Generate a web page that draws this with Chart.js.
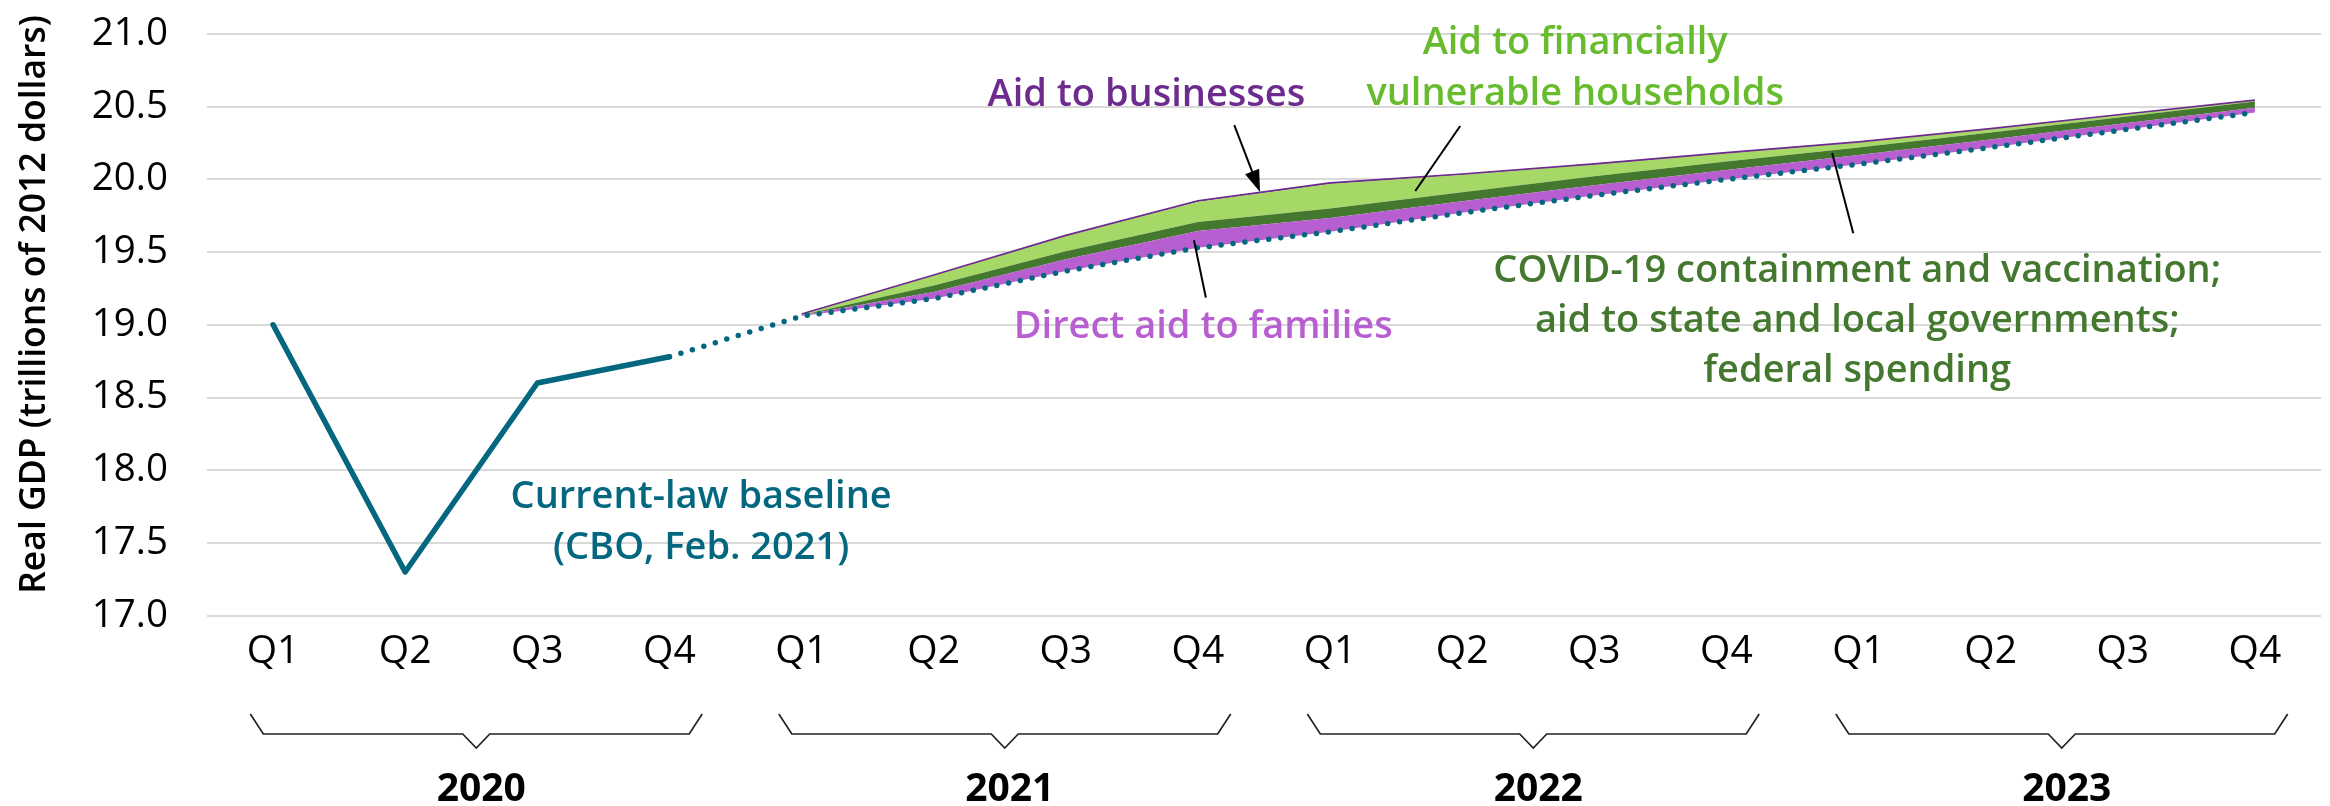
<!DOCTYPE html>
<html>
<head>
<meta charset="utf-8">
<script src="https://cdn.jsdelivr.net/npm/chart.js@4.4.1/dist/chart.umd.min.js"></script>
<style>
html,body{margin:0;padding:0;background:#ffffff;}
#wrap{width:2330px;height:806px;position:relative;}
</style>
</head>
<body>
<div id="wrap"><canvas id="c" width="2330" height="806"></canvas></div>
<script>
// ---------------- data ----------------
const quarterLabels = ['Q1','Q2','Q3','Q4','Q1','Q2','Q3','Q4','Q1','Q2','Q3','Q4','Q1','Q2','Q3','Q4'];
const yearLabels = ['2020','2021','2022','2023'];
const yTicks = [17.0, 17.5, 18.0, 18.5, 19.0, 19.5, 20.0, 20.5, 21.0];
const yTitle = 'Real GDP (trillions of 2012 dollars)';

// Actual GDP 2020 (solid line)
const actualGdp = [19.0, 17.3, 18.6, 18.78, null, null, null, null, null, null, null, null, null, null, null, null];
// Current-law baseline projection (dotted line)
const baselineGdp = [null, null, null, 18.78, 19.06, 19.18, 19.37, 19.53, 19.64, 19.77, 19.89, 20.0, 20.105, 20.22, 20.34, 20.46];
// Stacked contributions above the baseline
const directAidFamilies = [null, null, null, null, 0.005, 0.046, 0.08, 0.115, 0.095, 0.08, 0.07, 0.065, 0.062, 0.055, 0.045, 0.033];
const covidStateFederal = [null, null, null, null, 0.003, 0.045, 0.055, 0.062, 0.065, 0.062, 0.062, 0.058, 0.053, 0.048, 0.045, 0.042];
const aidVulnerableHouseholds = [null, null, null, null, 0.005, 0.068, 0.105, 0.14, 0.17, 0.12, 0.08, 0.057, 0.034, 0.023, 0.015, 0.007];
const aidBusinesses = [null, null, null, null, 0.002, 0.004, 0.005, 0.006, 0.006, 0.005, 0.005, 0.004, 0.004, 0.003, 0.003, 0.003];

// ---------------- styles ----------------
const FONT = "'Open Sans', 'Noto Sans', sans-serif";
const C_TEAL = '#03677F';
const C_PURPLE = '#B75ED0';
const C_DKGREEN = '#44782E';
const C_LTGREEN = '#A6D868';
const C_BIZ = '#6E2B8E';
const C_HHTEXT = '#67BC2D';

// annotations: anchor x as category index, y as axis value (baselines of text lines)
const notes = [
  {lines:['Aid to businesses'], color:C_BIZ, x:6.61, y:[20.505]},
  {lines:['Aid to financially','vulnerable households'], color:C_HHTEXT, x:9.855, y:[20.862, 20.511]},
  {lines:['COVID-19 containment and vaccination;','aid to state and local governments;','federal spending'], color:C_DKGREEN, x:11.99, y:[19.295, 18.951, 18.607]},
  {lines:['Direct aid to families'], color:C_PURPLE, x:7.04, y:[18.906]},
  {lines:['Current-law baseline','(CBO, Feb. 2021)'], color:C_TEAL, x:3.24, y:[17.74, 17.392]}
];
const leaders = [
  {from:[7.275, 20.374], to:[7.47, 19.913], arrow:true},
  {from:[8.985, 20.367], to:[8.645, 19.92], arrow:false},
  {from:[11.80, 20.181], to:[11.96, 19.63], arrow:false},
  {from:[6.97, 19.582], to:[7.06, 19.187], arrow:false}
];

const annotationPlugin = {
  id:'annotations',
  afterDraw(chart){
    const ctx = chart.ctx, xs = chart.scales.x, ys = chart.scales.y;
    ctx.save();
    // y-axis title
    ctx.save();
    ctx.translate(35, ys.getPixelForValue(19.14));
    ctx.rotate(-Math.PI/2);
    ctx.font = '600 35.5px ' + FONT;
    ctx.fillStyle = '#000';
    ctx.textAlign = 'center';
    ctx.textBaseline = 'middle';
    ctx.fillText(yTitle, 0, 0);
    ctx.restore();
    // leader lines
    leaders.forEach(l=>{
      const x1 = xs.getPixelForValue(l.from[0]), y1 = ys.getPixelForValue(l.from[1]);
      const x2 = xs.getPixelForValue(l.to[0]), y2 = ys.getPixelForValue(l.to[1]);
      ctx.strokeStyle = '#000'; ctx.lineWidth = 2;
      const ang = Math.atan2(y2-y1, x2-x1);
      const headLen = l.arrow ? 22 : 0;
      ctx.beginPath();
      ctx.moveTo(x1,y1);
      ctx.lineTo(x2 - Math.cos(ang)*headLen*0.8, y2 - Math.sin(ang)*headLen*0.8);
      ctx.stroke();
      if (l.arrow){
        ctx.fillStyle = '#000';
        ctx.beginPath();
        ctx.moveTo(x2,y2);
        ctx.lineTo(x2 - Math.cos(ang)*headLen + Math.sin(ang)*7.5, y2 - Math.sin(ang)*headLen - Math.cos(ang)*7.5);
        ctx.lineTo(x2 - Math.cos(ang)*headLen - Math.sin(ang)*7.5, y2 - Math.sin(ang)*headLen + Math.cos(ang)*7.5);
        ctx.closePath();
        ctx.fill();
      }
    });
    // texts
    ctx.font = '600 38px ' + FONT;
    ctx.textAlign = 'center';
    ctx.textBaseline = 'alphabetic';
    notes.forEach(n=>{
      ctx.fillStyle = n.color;
      const x = xs.getPixelForValue(n.x);
      n.lines.forEach((t,i)=>{ ctx.fillText(t, x, ys.getPixelForValue(n.y[i])); });
    });
    // year braces
    const cw = xs.getPixelForValue(1) - xs.getPixelForValue(0);
    ctx.strokeStyle = '#222'; ctx.lineWidth = 1.7;
    yearLabels.forEach((yr,g)=>{
      const cx = (xs.getPixelForValue(g*4) + xs.getPixelForValue(g*4+3))/2 + 5;
      const hw = cw*1.71;
      const yTop = 714, yMid = 734, yNotch = 748;
      ctx.beginPath();
      ctx.moveTo(cx-hw, yTop);
      ctx.lineTo(cx-hw+13, yMid);
      ctx.lineTo(cx-13.5, yMid);
      ctx.lineTo(cx, yNotch);
      ctx.lineTo(cx+13.5, yMid);
      ctx.lineTo(cx+hw-13, yMid);
      ctx.lineTo(cx+hw, yTop);
      ctx.stroke();
      ctx.fillStyle = '#000';
      ctx.font = '700 39px ' + FONT;
      ctx.textAlign = 'center';
      ctx.textBaseline = 'alphabetic';
      ctx.fillText(yr, cx+5, 801);
    });
    ctx.restore();
  }
};

const noBorder = 'rgba(0,0,0,0)';
new Chart(document.getElementById('c'), {
  type:'line',
  data:{
    labels: quarterLabels,
    datasets:[
      {label:'Current-law baseline (projection)', data:baselineGdp, stack:'gdp', borderColor:C_TEAL, borderWidth:5.5,
       borderDash:[0,12], borderCapStyle:'round', fill:false, pointRadius:0, tension:0},
      {label:'Direct aid to families', data:directAidFamilies, stack:'gdp', borderColor:noBorder, borderWidth:0.01,
       backgroundColor:C_PURPLE, fill:'-1', pointRadius:0, tension:0},
      {label:'COVID-19 containment and vaccination; aid to state and local governments; federal spending', data:covidStateFederal, stack:'gdp', borderColor:noBorder, borderWidth:0.01,
       backgroundColor:C_DKGREEN, fill:'-1', pointRadius:0, tension:0},
      {label:'Aid to financially vulnerable households', data:aidVulnerableHouseholds, stack:'gdp', borderColor:noBorder, borderWidth:0.01,
       backgroundColor:C_LTGREEN, fill:'-1', pointRadius:0, tension:0},
      {label:'Aid to businesses', data:aidBusinesses, stack:'gdp', borderColor:C_BIZ, borderWidth:1.6,
       backgroundColor:C_BIZ, fill:'-1', pointRadius:0, tension:0},
      {label:'Real GDP', data:actualGdp, stack:'actual', borderColor:C_TEAL, borderWidth:5.5,
       borderJoinStyle:'round', borderCapStyle:'round', fill:false, pointRadius:0, tension:0}
    ]
  },
  options:{
    responsive:false,
    animation:false,
    devicePixelRatio:1,
    events:[],
    layout:{padding:{left:0, right:9, top:34, bottom:0}},
    plugins:{
      legend:{display:false},
      tooltip:{enabled:false},
      filler:{drawTime:'beforeDatasetsDraw'}
    },
    scales:{
      x:{
        type:'category',
        offset:true,
        grid:{display:false, drawTicks:false},
        border:{display:false},
        ticks:{font:{family:FONT, size:39, weight:'400'}, color:'#000', padding:13, maxRotation:0, autoSkip:false},
        afterFit(s){ s.height = 190.4; s.paddingLeft = 0; s.paddingRight = 0; }
      },
      y:{
        stacked:true,
        min:17, max:21,
        afterBuildTicks(s){ s.ticks = yTicks.map(v=>({value:v})); },
        grid:{color:'#D9D9D9', lineWidth:2, drawTicks:false},
        border:{display:false},
        ticks:{font:{family:FONT, size:38.5, weight:'400'}, color:'#000', padding:39,
               callback:(v)=>Number(v).toFixed(1)},
        title:{display:false},
        afterFit(s){ s.width = 207; s.paddingTop = 0; s.paddingBottom = 0; }
      }
    }
  },
  plugins:[annotationPlugin]
});
</script>
</body>
</html>
